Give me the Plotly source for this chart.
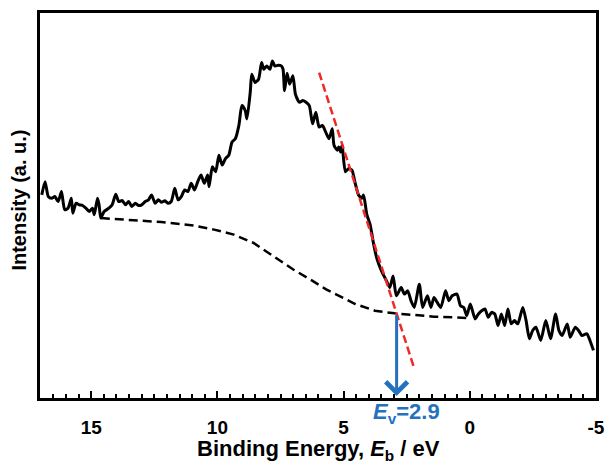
import plotly.graph_objects as go

# Valence-band XPS spectrum (binding energy in eV, intensity in arb. units)
energy = [16.96, 16.83, 16.70, 16.57, 16.44, 16.31, 16.18, 16.05, 15.92, 15.79,
          15.73, 15.60, 15.47, 15.34, 15.21, 15.08, 14.95, 14.88, 14.75, 14.69,
          14.62, 14.49, 14.30, 14.17, 14.03, 13.91, 13.78, 13.64, 13.52, 13.39,
          13.25, 13.13, 13.00, 12.86, 12.73, 12.61, 12.47, 12.34, 12.22, 12.08,
          11.95, 11.83, 11.69, 11.56, 11.43, 11.30, 11.17, 11.04, 10.91, 10.78,
          10.65, 10.52, 10.39, 10.33, 10.20, 10.07, 9.94, 9.81, 9.68, 9.55,
          9.42, 9.29, 9.15, 9.03, 8.90, 8.83, 8.70, 8.64, 8.51, 8.37,
          8.25, 8.16, 8.05, 7.92, 7.82, 7.73, 7.59, 7.47, 7.40, 7.34,
          7.24, 7.14, 7.01, 6.91, 6.75, 6.62, 6.49, 6.36, 6.23, 6.10,
          5.97, 5.84, 5.71, 5.58, 5.45, 5.38, 5.25, 5.19, 5.12, 5.06,
          4.93, 4.80, 4.67, 4.54, 4.41, 4.28, 4.21, 4.08, 3.95, 3.82,
          3.69, 3.50, 3.30, 3.17, 3.04, 2.91, 2.72, 2.59, 2.46, 2.33,
          2.20, 2.00, 1.87, 1.68, 1.54, 1.42, 1.29, 1.15, 0.96, 0.83,
          0.70, 0.51, 0.37, 0.24, 0.12, -0.02, -0.21, -0.34, -0.47, -0.60,
          -0.73, -0.86, -0.99, -1.12, -1.25, -1.38, -1.51, -1.64, -1.77, -1.90,
          -2.10, -2.23, -2.36, -2.49, -2.62, -2.81, -3.01, -3.20, -3.40, -3.53,
          -3.66, -3.86, -3.98, -4.18, -4.31, -4.44, -4.64, -4.76, -4.90]
intensity = [204.7, 218.0, 203.0, 201.3, 203.0, 198.0, 208.0, 189.7, 191.3, 201.3,
             186.3, 196.3, 194.7, 194.0, 191.3, 188.0, 191.3, 184.7, 201.3, 194.7,
             181.3, 188.0, 191.3, 194.7, 205.3, 198.0, 199.0, 194.7, 198.0, 193.0,
             196.3, 194.0, 194.7, 198.0, 199.7, 204.7, 196.3, 199.7, 197.3, 198.7,
             196.3, 198.0, 211.3, 199.7, 203.0, 209.7, 208.0, 216.3, 209.7, 218.0,
             224.7, 216.3, 224.7, 213.0, 233.0, 228.0, 244.7, 234.7, 241.3, 244.7,
             258.0, 261.3, 274.7, 294.7, 289.7, 281.3, 308.0, 326.3, 318.0, 321.3,
             338.0, 331.3, 334.7, 331.3, 339.7, 334.7, 335.3, 334.7, 331.3, 309.7,
             327.3, 316.3, 324.7, 306.3, 298.0, 299.7, 298.0, 294.7, 276.3, 288.0,
             273.0, 274.7, 268.0, 261.3, 271.3, 254.7, 249.7, 253.0, 248.0, 254.7,
             228.0, 231.3, 229.7, 216.3, 204.7, 201.3, 204.7, 184.7, 174.7, 156.3,
             141.3, 128.0, 118.0, 111.3, 123.0, 103.0, 111.3, 104.7, 108.0, 98.0,
             91.3, 114.7, 91.3, 103.0, 91.3, 101.3, 96.3, 91.3, 108.0, 98.0,
             103.0, 104.7, 93.0, 91.3, 83.0, 94.7, 79.7, 84.7, 88.0, 89.7,
             81.3, 86.3, 84.7, 73.0, 84.7, 73.0, 89.7, 74.7, 78.0, 74.7,
             91.3, 78.0, 59.7, 68.0, 71.3, 58.0, 78.0, 59.7, 84.7, 68.0,
             63.0, 74.7, 61.3, 71.3, 68.0, 63.0, 64.7, 58.0, 48.0]

# Shirley-type background
bg_energy = [14.62, 13.52, 12.22, 10.91, 10.13, 9.35, 8.57, 7.79, 7.01, 6.23,
             5.71, 5.32, 4.54, 3.76, 2.98, 2.20, 1.42, 0.63, 0.12]
bg_intensity = [181.3, 179.7, 177.3, 173.7, 169.7, 164.7, 156.3, 143.0, 129.7, 118.0,
                109.7, 104.7, 94.7, 88.0, 85.3, 83.7, 82.0, 81.3, 80.7]

# Linear extrapolation of the leading edge
edge_energy = [5.97, 2.20]
edge_intensity = [328.0, 29.7]

# Valence band maximum
ev_value = 2.9
ev_intensity = 85.0
axis_bottom = 2.0

x_ticks = [15, 10, 5, 0, -5]
x_ticktext = ["15", "10", "5", "0", "-5"]

FONT = "Arial, Liberation Sans, sans-serif"
BLUE = "#2471BD"

fig = go.Figure()
fig.add_trace(go.Scatter(x=bg_energy, y=bg_intensity, mode="lines",
                         line=dict(color="black", width=2.5, dash="9px,5px"),
                         hoverinfo="skip"))
fig.add_trace(go.Scatter(x=energy, y=intensity, mode="lines",
                         line=dict(color="black", width=3, shape="spline", smoothing=0.6),
                         hoverinfo="skip"))
fig.add_trace(go.Scatter(x=edge_energy, y=edge_intensity, mode="lines",
                         line=dict(color="#F02828", width=2.5, dash="8px,4px"),
                         hoverinfo="skip"))

fig.add_annotation(x=ev_value, y=axis_bottom, ax=ev_value, ay=ev_intensity,
                   xref="x", yref="y", axref="x", ayref="y",
                   text="", showarrow=True, arrowhead=4, arrowsize=1.4,
                   arrowwidth=3, arrowcolor=BLUE, standoff=0, startstandoff=0)
fig.add_annotation(x=ev_value, y=-0.038, xref="x", yref="paper",
                   text="<b><i>E</i><sub>v</sub>=2.9</b>", showarrow=False,
                   font=dict(family=FONT, size=22, color=BLUE),
                   xanchor="center", yanchor="middle", xshift=10)
fig.add_annotation(x=-0.038, y=0.515, xref="paper", yref="paper",
                   text="<b>Intensity (a. u.)</b>", showarrow=False, textangle=-90,
                   font=dict(family=FONT, size=20, color="black"),
                   xanchor="center", yanchor="middle")
fig.add_annotation(x=0.5, y=-0.136, xref="paper", yref="paper",
                   text="<b>Binding Energy, <i>E</i><sub>b</sub> / eV</b>",
                   showarrow=False, font=dict(family=FONT, size=22, color="black"),
                   xanchor="center", yanchor="middle")

fig.update_layout(
    width=615, height=465,
    margin=dict(l=40, r=11, t=10, b=67),
    paper_bgcolor="white", plot_bgcolor="white",
    showlegend=False,
    font=dict(family=FONT, color="black"),
    xaxis=dict(range=[17.03, -5.0], tickvals=x_ticks, ticktext=x_ticktext,
               ticks="inside", ticklen=7, tickwidth=2, tickcolor="black",
               minor=dict(dtick=0.5, ticks="inside", ticklen=4.5, tickwidth=2,
                          tickcolor="black", showgrid=False),
               showline=True, linewidth=2.5, linecolor="black", mirror=True,
               showgrid=False, zeroline=False,
               tickfont=dict(family=FONT, size=19, color="black", weight="bold"),
               ticklabelstandoff=10),
    yaxis=dict(range=[0, 388], showticklabels=False, ticks="",
               showline=True, linewidth=2.5, linecolor="black", mirror=True,
               showgrid=False, zeroline=False),
)

fig.write_html("out.html")
